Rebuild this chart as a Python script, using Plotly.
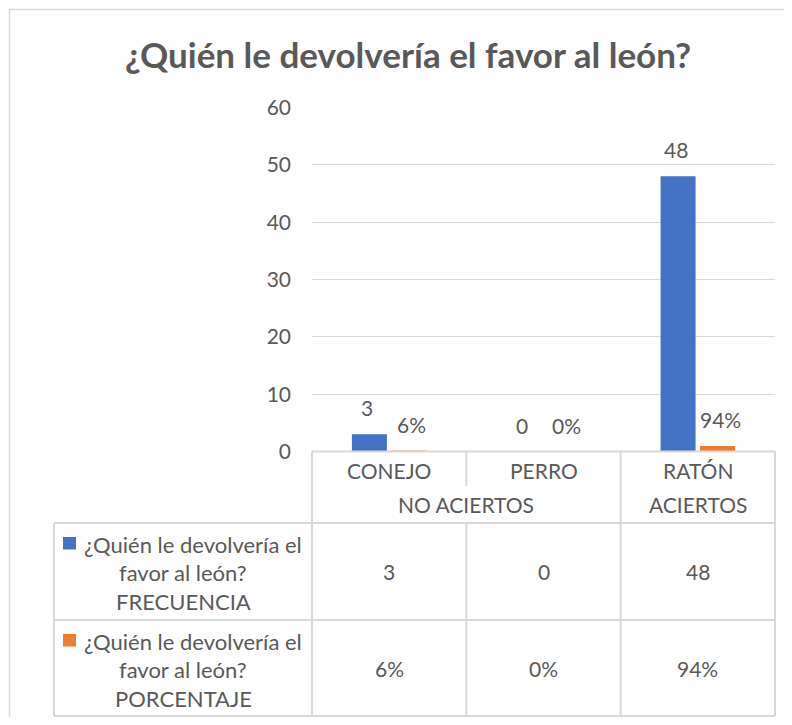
import plotly.graph_objects as go

# ---------------- data ----------------
categories = ["CONEJO", "PERRO", "RATÓN"]
groups = ["NO ACIERTOS", "NO ACIERTOS", "ACIERTOS"]
frecuencia = [3, 0, 48]
porcentaje = [0.06, 0.0, 0.94]
series_names = [
    "¿Quién le devolvería el favor al león? FRECUENCIA",
    "¿Quién le devolvería el favor al león? PORCENTAJE",
]
row_label_lines = [
    ["¿Quién le devolvería el", "favor al león?", "FRECUENCIA"],
    ["¿Quién le devolvería el", "favor al león?", "PORCENTAJE"],
]
title_text = "¿Quién le devolvería el favor al león?"
y_ticks = [0, 10, 20, 30, 40, 50, 60]

BLUE = "#4472C4"
ORANGE = "#ED7D31"
TXT = "#595959"
GRID = "#D9D9D9"
FONT = "Lato, 'Open Sans', sans-serif"

# page body has an 8px margin; the figure sits at (8, 8)
OFF = 8
W, H = 792 - OFF, 725 - 2 * OFF


def px(x):
    return (x - OFF) / W


def py(y):
    return 1 - (y - OFF) / H


# plot area (page pixels)
PL, PR, PT, PB = 312, 775, 107.5, 451.5
# table geometry
TL = 54
H1, H2, R1, R2 = 486.5, 523, 620, 716
cat_w = (PR - PL) / len(categories)
FS = 21

fig = go.Figure()
fig.add_trace(go.Bar(x=categories, y=frecuencia, name=series_names[0],
                     marker=dict(color=BLUE, line=dict(width=0))))
fig.add_trace(go.Bar(x=categories, y=porcentaje, name=series_names[1],
                     marker=dict(color=ORANGE, line=dict(width=0))))

shapes = []
annotations = []


def ann(x, y, text, size=FS, **kw):
    annotations.append(dict(x=px(x), y=py(y), xref="paper", yref="paper",
                            text=text, showarrow=False, xanchor="center",
                            yanchor="middle",
                            font=dict(size=size, color=TXT, family=FONT), **kw))


# chart border (left and top edges visible), kept inside the figure
shapes.append(dict(type="line", xref="paper", yref="paper",
                   x0=px(9.5), x1=px(9.5), y0=py(9.5), y1=0,
                   line=dict(color=GRID, width=1.5), layer="below"))
shapes.append(dict(type="line", xref="paper", yref="paper",
                   x0=px(9.5), x1=1, y0=py(9.5), y1=py(9.5),
                   line=dict(color=GRID, width=1.5), layer="below"))

# data labels
offs = [-22, 22.5]
for si, (vals, fmt) in enumerate([(frecuencia, lambda v: f"{v}"),
                                  (porcentaje, lambda v: f"{round(v * 100)}%")]):
    for c, v in zip(categories, vals):
        annotations.append(dict(x=c, y=v, xref="x", yref="y", text=fmt(v),
                                showarrow=False, xshift=offs[si], yshift=26.5,
                                xanchor="center", yanchor="middle",
                                font=dict(size=FS, color=TXT, family=FONT)))

# table lines
L = dict(color=GRID, width=2)


def hline(y, x0, x1):
    shapes.append(dict(type="line", xref="paper", yref="paper",
                       x0=px(x0), x1=px(x1), y0=py(y), y1=py(y), line=L))


def vline(x, y0, y1):
    shapes.append(dict(type="line", xref="paper", yref="paper",
                       x0=px(x), x1=px(x), y0=py(y0), y1=py(y1), line=L))


hline(PB, PL, PR)
hline(H2, TL, PR)
hline(R1, TL, PR)
hline(R2, TL, PR)
vline(TL, H2, R2)
vline(PL, PB, R2)
vline(PR, PB, R2)

# group boundaries
bounds = [0]
for i in range(1, len(groups)):
    if groups[i] != groups[i - 1]:
        bounds.append(i)
bounds.append(len(groups))
for i in range(1, len(categories)):
    x = PL + i * cat_w
    if i in bounds:
        vline(x, PB, R2)
    else:
        vline(x, PB, H1)
        vline(x, H2, R2)

# category headers & values
for i, c in enumerate(categories):
    cx = PL + (i + 0.5) * cat_w
    ann(cx, (PB + H1) / 2 + 1, c)
    ann(cx, (H2 + R1) / 2, f"{frecuencia[i]}")
    ann(cx, (R1 + R2) / 2, f"{round(porcentaje[i] * 100)}%")

# group headers
for b0, b1 in zip(bounds[:-1], bounds[1:]):
    cx = PL + (b0 + b1) / 2 * cat_w
    ann(cx, (H1 + H2) / 2, groups[b0])

# row labels with legend keys
row_tops = [H2, R1]
colors = [BLUE, ORANGE]
for r, lines in enumerate(row_label_lines):
    top = row_tops[r]
    line_ys = [top + 21, top + 49.5, top + 78.5]
    for k, t in enumerate(lines):
        cx = (TL + PL) / 2 + (10 if k == 0 else 0)
        ann(cx, line_ys[k], t, size=22)
    shapes.append(dict(type="rect", xref="paper", yref="paper",
                       x0=px(63), x1=px(76), y0=py(line_ys[0] + 5.5), y1=py(line_ys[0] - 7),
                       fillcolor=colors[r], line=dict(width=0)))

# title
ann(408, 54, f"<b>{title_text}</b>", size=35)

fig.update_layout(
    width=W, height=H,
    margin=dict(l=0, r=0, t=0, b=0, pad=0, autoexpand=False),
    paper_bgcolor="white", plot_bgcolor="white",
    barmode="group", bargap=0.488, bargroupgap=0.114,
    showlegend=False,
    shapes=shapes, annotations=annotations,
    xaxis=dict(domain=[px(PL), px(PR)], showticklabels=False, showgrid=False,
               zeroline=False, showline=False, fixedrange=True, automargin=False),
    yaxis=dict(domain=[py(PB), py(PT)], range=[0, 60], tickvals=y_ticks,
               showgrid=True, gridcolor=GRID, gridwidth=1.3, zeroline=False,
               showline=False, ticks="", ticklabelstandoff=20, automargin=False,
               tickfont=dict(size=FS, color=TXT, family=FONT), fixedrange=True),
    font=dict(family=FONT, color=TXT),
)

fig.write_html("out.html")
